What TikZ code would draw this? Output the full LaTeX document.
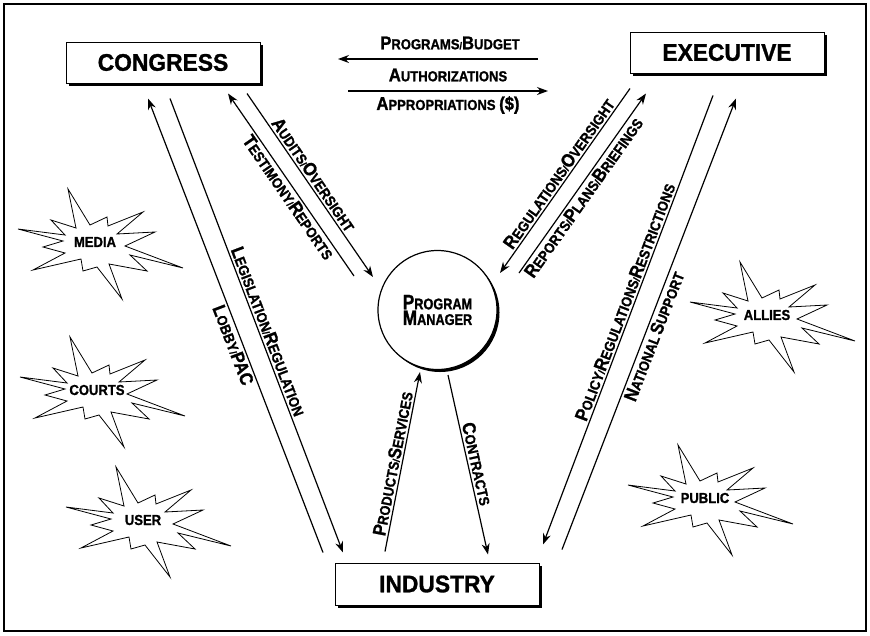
\documentclass[tikz,border=0pt]{standalone}
\usepackage{fontspec}
\setmainfont{Liberation Sans}[FakeStretch=0.9, BoldFeatures={FakeBold=1.2}]
\newfontfamily\boxfont{Liberation Sans}[FakeStretch=0.95, BoldFeatures={FakeBold=1.2}]
\newfontfamily\pmfont{Liberation Sans}[FakeStretch=0.82, BoldFeatures={FakeBold=1.2}]
\usetikzlibrary{arrows.meta,shadows}

\newcommand{\capword}[2]{{\fontsize{18.5}{18.5}\selectfont #1}{\fontsize{14.5}{14.5}\selectfont #2}}

\newcommand{\burst}[3]{
	\node[bursttext] (#1) at (#2) {#3};
	\draw[line width=0.8pt, shift={(#1.center)}] (-27,-53) -- (-5,-17) -- (12,-25) -- (13,-16)
		-- (48,-30) -- (22,-8) -- (60,-10) -- (30,4) -- (88,26) -- (35,13) -- (52,29) -- (14,22)
		-- (27,57) -- (2,25) -- (-12,29) -- (-14,17) -- (-62,28) -- (-30,11) -- (-52,5) -- (-32,-1)
		-- (-77,-13) -- (-30,-7) -- (-44,-22) -- (-19,-14) -- cycle;
}

\tikzset{
	box/.style={draw, fill=white, line width=1pt, minimum width=194pt, minimum height=41pt,
		font=\boxfont\fontsize{24}{24}\selectfont\bfseries,
		drop shadow={shadow xshift=3pt, shadow yshift=-3pt, opacity=1, fill=black}},
	flow/.style={line width=1.2pt, -{Stealth[length=11pt,width=8pt]}},
	lab/.style={sloped, font=\bfseries, inner sep=2pt},
	toplab/.style={font=\bfseries, inner sep=0pt},
	bursttext/.style={font=\fontsize{14.5}{14.5}\selectfont\bfseries, inner sep=0pt}
}

\begin{document}
\begin{tikzpicture}[x=1pt,y=-1pt]
\useasboundingbox (0,0) rectangle (870,635);
\draw[line width=2pt] (4,4) rectangle (866,631);

\node[box] (cong) at (163,62.5) {CONGRESS};
\node[box] (exec) at (727,52.5) {EXECUTIVE};
\node[box, minimum width=204pt, minimum height=42pt] (ind) at (437,584) {INDUSTRY};
\node[draw, circle, fill=white, line width=1.2pt, minimum size=119pt, align=center, font=\pmfont\bfseries,
	drop shadow={shadow xshift=2.5pt, shadow yshift=-2.5pt, opacity=1, fill=black}] (pm) at (437.5,310)
	{{\fontsize{21}{26}\selectfont P}{\fontsize{15.5}{26}\selectfont ROGRAM}\\
	 {\fontsize{21}{26}\selectfont M}{\fontsize{15.5}{26}\selectfont ANAGER}};

\node[toplab] (prog) at (450,43) {\capword{P}{ROGRAMS}/\capword{B}{UDGET}};
\node[toplab] (auth) at (448,75) {\capword{A}{UTHORIZATIONS}};
\node[toplab] (appr) at (448,105) {\capword{A}{PPROPRIATIONS }\capword{(\$)}{}};
\draw[flow] ([shift={(90,-16)}]auth.center) -- ([shift={(-110,-16)}]auth.center);
\draw[flow] ([shift={(-100,16)}]auth.center) -- ([shift={(100,16)}]auth.center);

\draw[flow] ([shift={(-83.5,-34)}]pm.center) -- node[lab, below, pos=0.46] {\capword{T}{ESTIMONY}/\capword{R}{EPORTS}} ([shift={(65,10)}]cong.south);
\draw[flow] ([shift={(84,10)}]cong.south) -- node[lab, above, pos=0.47] {\capword{A}{UDITS}/\capword{O}{VERSIGHT}} ([shift={(-64.5,-33)}]pm.center);

\draw[flow] ([shift={(-114,-10)}]ind.north) -- node[lab, below, pos=0.464] {\capword{L}{OBBY}/\capword{PAC}{}} ([shift={(-15,15)}]cong.south);
\draw[flow] ([shift={(7,15)}]cong.south) -- node[lab, above, pos=0.52] {\capword{L}{EGISLATION}/\capword{R}{EGULATION}} ([shift={(-94,-10)}]ind.north);

\draw[flow] ([shift={(-97,15)}]exec.south) -- node[lab, above, pos=0.49] {\capword{R}{EGULATIONS}/\capword{O}{VERSIGHT}} ([shift={(62.5,-37)}]pm.center);
\draw[flow] ([shift={(81.5,-37)}]pm.center) -- node[lab, below, pos=0.45] {\capword{R}{EPORTS}/\capword{P}{LANS}/\capword{B}{RIEFINGS}} ([shift={(-81,20)}]exec.south);

\draw[flow] ([shift={(-14,22)}]exec.south) -- node[lab, above, pos=0.467] {\capword{P}{OLICY}/\capword{R}{EGULATIONS}/\capword{R}{ESTRICTIONS}} ([shift={(106,-18)}]ind.north);
\draw[flow] ([shift={(125,-13)}]ind.north) -- node[lab, below, pos=0.48] {\capword{N}{ATIONAL} \capword{S}{UPPORT}} ([shift={(9,25)}]exec.south);

\draw[flow] ([shift={(-52,-11)}]ind.north) -- node[lab, above, pos=0.48] {\capword{P}{RODUCTS}/\capword{S}{ERVICES}} ([shift={(-17.5,62)}]pm.center);
\draw[flow] ([shift={(10.5,65)}]pm.center) -- node[lab, above, pos=0.506] {\capword{C}{ONTRACTS}} ([shift={(51,-8)}]ind.north);

\burst{media}{95,242}{MEDIA}
\burst{courts}{97,390}{COURTS}
\burst{user}{143,520}{USER}
\burst{allies}{767,315}{ALLIES}
\burst{public}{705,498}{PUBLIC}
\end{tikzpicture}
\end{document}
